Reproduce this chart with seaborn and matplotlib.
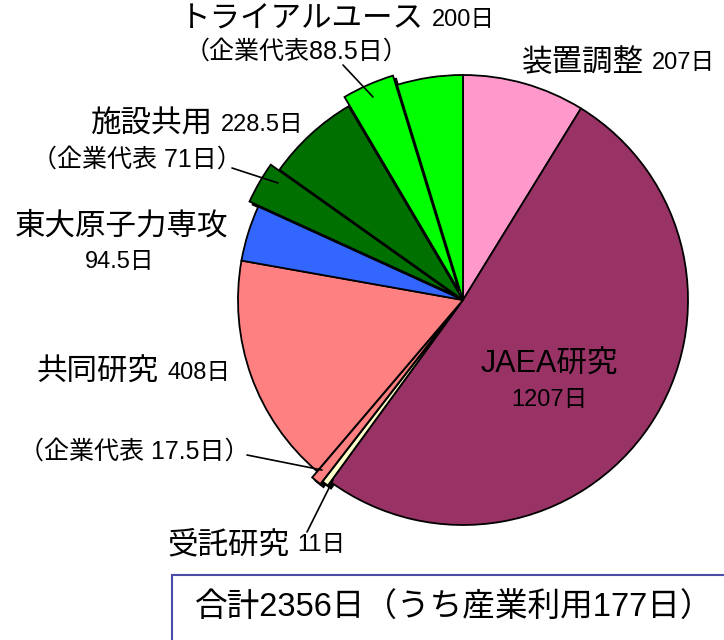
import numpy as np
import seaborn as sns
import matplotlib.pyplot as plt
from matplotlib.patches import Shadow, Rectangle

# slices, clockwise from 12 o'clock (enterprise parts split out)
slice_names = [
    "装置調整", "JAEA研究", "受託研究", "共同研究(企業代表)", "共同研究",
    "東大原子力専攻", "施設共用(企業代表)", "施設共用",
    "トライアルユース(企業代表)", "トライアルユース",
]
slice_days = [207, 1207, 11, 17.5, 390.5, 94.5, 71, 157.5, 88.5, 111.5]
slice_colors = [
    "#FF99CC", "#993366", "#FFFFCC", "#FF8080", "#FF8080",
    "#3366FF", "#007000", "#007000", "#00FF00", "#00FF00",
]
slice_explode = [0, 0, 0.02, 0.035, 0, 0, 0.045, 0, 0.045, 0]

total_days = 2356
industry_days = 177

sns.set_theme(style="white")
plt.rcParams["font.family"] = ["Liberation Sans", "Noto Sans CJK JP"]
plt.rcParams["text.color"] = "black"

W, H = 724, 640
CX, CY, R = 463, 300, 225  # pie centre and radius in pixels

fig = plt.figure(figsize=(W / 100, H / 100), dpi=100)
ax = fig.add_axes([0, 0, 1, 1])


def px(x, y):
    # pixel position -> data coords
    return (x - CX) / R, (CY - y) / R


wedges, _ = ax.pie(
    slice_days,
    colors=slice_colors,
    explode=slice_explode,
    startangle=90,
    counterclock=False,
    radius=1,
    wedgeprops=dict(edgecolor="black", linewidth=1.3),
)
ax.set_aspect("auto")
ax.set_xlim(-CX / R, (W - CX) / R)
ax.set_ylim(-(H - CY) / R, CY / R)
ax.axis("off")

# drop shadows on the pulled-out pieces
for w, e in zip(wedges, slice_explode):
    if e > 0:
        s = Shadow(w, 0.01, -0.01, facecolor="black", edgecolor="black", alpha=1)
        s.set_zorder(w.get_zorder() - 0.5)
        ax.add_patch(s)

big = 22
num = 17
sub = 18


def two_part(x_split, y, jp, days, gap=8):
    ax.text(*px(x_split, y), jp, fontsize=big, ha="right", va="center")
    ax.text(*px(x_split + gap, y), days, fontsize=num, ha="left", va="center")


two_part(424, 20, "トライアルユース", "200日")
ax.text(*px(296, 52), "（企業代表88.5日）", fontsize=sub, ha="center", va="center")
two_part(644, 63, "装置調整", "207日")
two_part(213, 125, "施設共用", "228.5日")
ax.text(*px(137, 160), "（企業代表 71日）", fontsize=sub, ha="center", va="center")
ax.text(*px(122, 227), "東大原子力専攻", fontsize=big, ha="center", va="center")
ax.text(*px(120, 262), "94.5日", fontsize=num, ha="center", va="center")
two_part(159, 373, "共同研究", "408日")
ax.text(*px(134, 452), "（企業代表 17.5日）", fontsize=sub, ha="center", va="center")
ax.text(*px(549, 365), "JAEA研究", fontsize=big, ha="center", va="center")
ax.text(*px(549, 400), "1207日", fontsize=num, ha="center", va="center")
two_part(289, 545, "受託研究", "11日")

# leader lines
for (x0, y0), (x1, y1) in [
    ((343, 65), (373, 97)),
    ((232, 168), (278, 183)),
    ((247, 455), (322, 470)),
    ((333, 480), (307, 532)),
]:
    ax.plot(*zip(px(x0, y0), px(x1, y1)), color="black", lw=1.2)

# total box
bx, by = px(172, 575)
ax.add_patch(Rectangle((bx, by - 1), 3, 1, facecolor="white",
                       edgecolor="#4B4BA8", lw=1.5, zorder=5))
ax.text(*px(195, 608), f"合計{total_days}日（うち産業利用{industry_days}日）",
        fontsize=23.5, ha="left", va="center", zorder=6)

fig.savefig("out.png", dpi=100)
